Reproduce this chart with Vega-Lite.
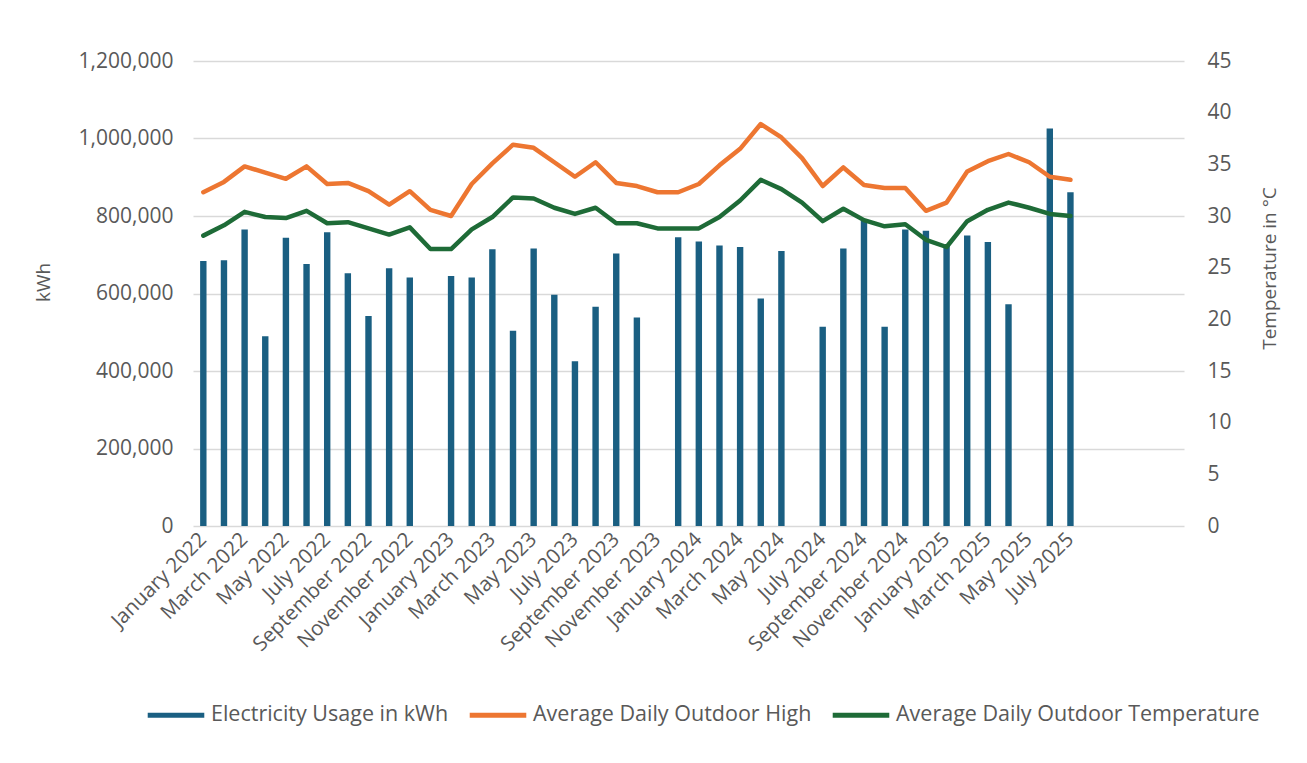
{
  "$schema": "https://vega.github.io/schema/vega-lite/v6.json",
  "autosize": "none",
  "width": 991,
  "height": 465,
  "padding": {"left": 193, "top": 61, "right": 123, "bottom": 237},
  "background": "white",
  "config": {
    "view": {"stroke": null},
    "font": "Open Sans",
    "axis": {
      "labelFont": "Open Sans",
      "titleFont": "Open Sans",
      "labelColor": "#595959",
      "titleColor": "#595959",
      "titleFontWeight": "normal",
      "domain": false,
      "ticks": false,
      "gridColor": "#d9d9d9",
      "gridWidth": 1.5
    },
    "legend": {"labelFont": "Open Sans", "labelColor": "#595959"}
  },
  "data": {
    "values": [
      {"month": "January 2022", "kwh": 684000, "high": 32.3, "avg": 28.1},
      {"month": "February 2022", "kwh": 686000, "high": 33.3, "avg": 29.1},
      {"month": "March 2022", "kwh": 765000, "high": 34.8, "avg": 30.4},
      {"month": "April 2022", "kwh": 490000, "high": 34.2, "avg": 29.9},
      {"month": "May 2022", "kwh": 744000, "high": 33.6, "avg": 29.8},
      {"month": "June 2022", "kwh": 676000, "high": 34.8, "avg": 30.5},
      {"month": "July 2022", "kwh": 758000, "high": 33.1, "avg": 29.3},
      {"month": "August 2022", "kwh": 652000, "high": 33.2, "avg": 29.4},
      {"month": "September 2022", "kwh": 542000, "high": 32.4, "avg": 28.8},
      {"month": "October 2022", "kwh": 665000, "high": 31.1, "avg": 28.2},
      {"month": "November 2022", "kwh": 641000, "high": 32.4, "avg": 28.9},
      {"month": "December 2022", "kwh": null, "high": 30.6, "avg": 26.8},
      {"month": "January 2023", "kwh": 645000, "high": 30.0, "avg": 26.8},
      {"month": "February 2023", "kwh": 641000, "high": 33.1, "avg": 28.7},
      {"month": "March 2023", "kwh": 714000, "high": 35.1, "avg": 29.9},
      {"month": "April 2023", "kwh": 504000, "high": 36.9, "avg": 31.8},
      {"month": "May 2023", "kwh": 716000, "high": 36.6, "avg": 31.7},
      {"month": "June 2023", "kwh": 597000, "high": 35.2, "avg": 30.8},
      {"month": "July 2023", "kwh": 425000, "high": 33.8, "avg": 30.2},
      {"month": "August 2023", "kwh": 566000, "high": 35.2, "avg": 30.8},
      {"month": "September 2023", "kwh": 703000, "high": 33.2, "avg": 29.3},
      {"month": "October 2023", "kwh": 538000, "high": 32.9, "avg": 29.3},
      {"month": "November 2023", "kwh": null, "high": 32.3, "avg": 28.8},
      {"month": "December 2023", "kwh": 745000, "high": 32.3, "avg": 28.8},
      {"month": "January 2024", "kwh": 734000, "high": 33.1, "avg": 28.8},
      {"month": "February 2024", "kwh": 724000, "high": 34.9, "avg": 29.9},
      {"month": "March 2024", "kwh": 720000, "high": 36.5, "avg": 31.5},
      {"month": "April 2024", "kwh": 587000, "high": 38.9, "avg": 33.5},
      {"month": "May 2024", "kwh": 710000, "high": 37.6, "avg": 32.6},
      {"month": "June 2024", "kwh": null, "high": 35.6, "avg": 31.3},
      {"month": "July 2024", "kwh": 514000, "high": 32.9, "avg": 29.5},
      {"month": "August 2024", "kwh": 716000, "high": 34.7, "avg": 30.7},
      {"month": "September 2024", "kwh": 789000, "high": 33.0, "avg": 29.6},
      {"month": "October 2024", "kwh": 514000, "high": 32.7, "avg": 29.0},
      {"month": "November 2024", "kwh": 765000, "high": 32.7, "avg": 29.2},
      {"month": "December 2024", "kwh": 762000, "high": 30.5, "avg": 27.7},
      {"month": "January 2025", "kwh": 725000, "high": 31.3, "avg": 27.0},
      {"month": "February 2025", "kwh": 750000, "high": 34.3, "avg": 29.5},
      {"month": "March 2025", "kwh": 733000, "high": 35.3, "avg": 30.6},
      {"month": "April 2025", "kwh": 572000, "high": 36.0, "avg": 31.3},
      {"month": "May 2025", "kwh": null, "high": 35.2, "avg": 30.8},
      {"month": "June 2025", "kwh": 1026000, "high": 33.8, "avg": 30.2},
      {"month": "July 2025", "kwh": 861000, "high": 33.5, "avg": 30.0}
    ]
  },
  "encoding": {
    "x": {
      "field": "month",
      "type": "ordinal",
      "sort": null,
      "scale": {
        "domain": ["January 2022","February 2022","March 2022","April 2022","May 2022","June 2022","July 2022","August 2022","September 2022","October 2022","November 2022","December 2022","January 2023","February 2023","March 2023","April 2023","May 2023","June 2023","July 2023","August 2023","September 2023","October 2023","November 2023","December 2023","January 2024","February 2024","March 2024","April 2024","May 2024","June 2024","July 2024","August 2024","September 2024","October 2024","November 2024","December 2024","January 2025","February 2025","March 2025","April 2025","May 2025","June 2025","July 2025","August 2025","September 2025","October 2025","November 2025","December 2025"],
        "paddingInner": 0.69,
        "paddingOuter": 0.345
      },
      "axis": {
        "title": null,
        "labelAngle": -45,
        "labelAlign": "right",
        "labelBaseline": "middle",
        "labelPadding": 10,
        "labelFontSize": 20.5,
        "labelOverlap": false,
        "labelBound": false,
        "grid": false,
        "labelExpr": "indexof(['January','March','May','July','September','November'], split(datum.value, ' ')[0]) >= 0 && datum.value != 'September 2025' && datum.value != 'November 2025' ? datum.value : ''"
      }
    }
  },
  "layer": [
    {
      "mark": {"type": "bar", "color": "#1A5F82"},
      "encoding": {
        "y": {
          "field": "kwh",
          "type": "quantitative",
          "scale": {"domain": [0, 1200000], "nice": false},
          "axis": {
            "title": "kWh",
            "titleFontSize": 19,
            "titleAngle": 270,
            "titleX": -150,
            "titleY": 221,
            "titleAlign": "center",
            "titleBaseline": "middle",
            "values": [0, 200000, 400000, 600000, 800000, 1000000, 1200000],
            "format": ",.0f",
            "labelFontSize": 21,
            "labelPadding": 20,
            "grid": true
          }
        }
      }
    },
    {
      "layer": [
        {
          "mark": {"type": "line", "strokeWidth": 4.5, "strokeCap": "round", "strokeJoin": "round"},
          "encoding": {
            "y": {
              "field": "high",
              "type": "quantitative",
              "scale": {"domain": [0, 45], "nice": false},
              "axis": {
                "orient": "right",
                "title": "Temperature in °C",
                "titleFontSize": 19,
                "titleAngle": 270,
                "titleX": 85,
                "titleY": 207,
                "titleAlign": "center",
                "titleBaseline": "middle",
                "values": [0, 5, 10, 15, 20, 25, 30, 35, 40, 45],
                "labelFontSize": 21,
                "labelPadding": 23,
                "grid": false
              }
            },
            "color": {
              "datum": "Average Daily Outdoor High",
              "type": "nominal",
              "scale": {
                "domain": ["Electricity Usage in kWh", "Average Daily Outdoor High", "Average Daily Outdoor Temperature"],
                "range": ["#1A5F82", "#ED7631", "#1E6B37"]
              },
              "legend": {
                "title": null,
                "orient": "none",
                "direction": "horizontal",
                "legendX": -48,
                "legendY": 623,
                "symbolType": "stroke",
                "symbolSize": 3200,
                "symbolStrokeWidth": 5,
                "labelFontSize": 21.5,
                "labelOffset": 4,
                "columnPadding": 10,
                "labelLimit": 500
              }
            }
          }
        },
        {
          "mark": {"type": "line", "strokeWidth": 4.5, "strokeCap": "round", "strokeJoin": "round"},
          "encoding": {
            "y": {"field": "avg", "type": "quantitative"},
            "color": {"datum": "Average Daily Outdoor Temperature", "type": "nominal"}
          }
        }
      ]
    }
  ],
  "resolve": {"scale": {"y": "independent"}}
}
